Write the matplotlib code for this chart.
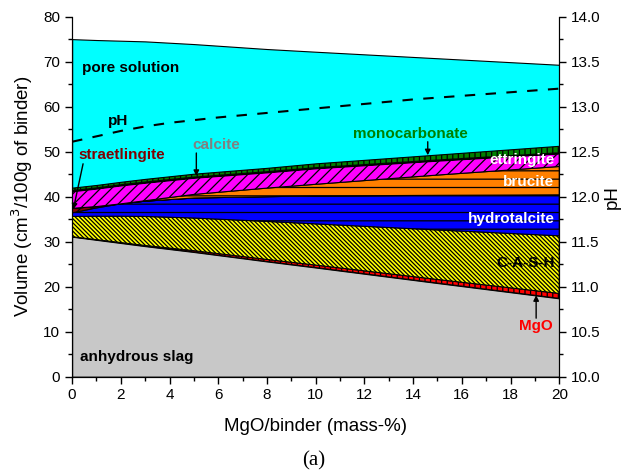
import numpy as np
import matplotlib
matplotlib.use("Agg")
import matplotlib.pyplot as plt

plt.rcParams['font.family'] = ['Liberation Sans', 'DejaVu Sans']
plt.rcParams['hatch.linewidth'] = 0.9

# MgO content of the binder (mass-%)
mgo = [0, 1, 2, 3, 5, 8, 10, 15, 20]

# Phase volumes (cm3/100 g of binder), stacked from the bottom up
slag = [31.1, 30.4, 29.7, 29.0, 27.7, 25.6, 24.25, 20.8, 17.4]
mgo_phase = [0.0, 0.05, 0.1, 0.15, 0.3, 0.45, 0.55, 0.8, 1.1]
cash = [4.5, 5.2, 5.85, 6.45, 7.25, 8.45, 9.15, 11.0, 12.8]
hydrotalcite = [0.8, 1.85, 2.75, 3.4, 4.45, 5.5, 6.2, 7.7, 9.1]
straetlingite = [1.0, 0.3, 0.0, 0.0, 0.0, 0.0, 0.0, 0.0, 0.0]
brucite = [0.0, 0.0, 0.0, 0.1, 0.8, 1.9, 2.6, 4.5, 6.3]
ettringite = [3.8, 4.0, 4.1, 4.0, 3.7, 3.5, 3.55, 3.2, 2.9]
calcite = [0.15, 0.15, 0.15, 0.15, 0.15, 0.15, 0.15, 0.15, 0.15]
monocarbonate = [0.65, 0.65, 0.65, 0.7, 0.75, 0.85, 0.95, 1.2, 1.55]
pore_solution = [33.0, 32.2, 31.35, 30.55, 28.8, 26.4, 24.8, 21.4, 18.0]

# pH of the pore solution
ph_x = [0, 1, 2, 3, 4, 6, 8, 10, 12, 14, 16, 18, 20]
ph = [12.61, 12.67, 12.73, 12.78, 12.82, 12.88, 12.93, 12.98, 13.03, 13.08, 13.12, 13.16, 13.2]

layers = [
    (slag, '#c8c8c8', None),
    (mgo_phase, '#ff0000', '|||'),
    (cash, '#ffff00', '\\' * 8),
    (hydrotalcite, '#0000ff', '--'),
    (straetlingite, '#800000', '///'),
    (brucite, '#ff8000', '--'),
    (ettringite, '#ff00ff', '///'),
    (calcite, '#808080', None),
    (monocarbonate, '#008000', '|||'),
    (pore_solution, '#00ffff', None),
]

fig = plt.figure(figsize=(6.27, 4.75), dpi=100)
ax = fig.add_axes([0.115, 0.207, 0.777, 0.758])

bottom = np.zeros(len(mgo))
for vals, color, hatch in layers:
    top = bottom + np.array(vals)
    ax.fill_between(mgo, bottom, top, facecolor=color, edgecolor='black',
                    hatch=hatch, linewidth=0.8)
    bottom = top

ax.set_xlim(0, 20)
ax.set_ylim(0, 80)
ax.set_xticks(range(0, 21, 2))
ax.set_xticks(range(1, 20, 2), minor=True)
ax.set_yticks(range(0, 81, 10))
ax.set_yticks(range(5, 80, 10), minor=True)
ax.tick_params(which='major', direction='out', length=5, width=1, labelsize=11)
ax.tick_params(which='minor', direction='out', length=3, width=1)
ax.spines['top'].set_visible(False)
ax.set_xlabel('MgO/binder (mass-%)', fontsize=13.5, labelpad=11)
ax.set_ylabel('Volume (cm$^3$/100g of binder)', fontsize=13.5, labelpad=6)

ax2 = ax.twinx()
ax2.plot(ph_x, ph, color='black', linestyle=(0, (5, 5)), linewidth=1.5)
ax2.set_ylim(10, 14)
ax2.set_yticks(np.arange(10, 14.01, 0.5))
ax2.set_yticks(np.arange(10.25, 14, 0.5), minor=True)
ax2.yaxis.set_major_formatter(matplotlib.ticker.FormatStrFormatter('%.1f'))
ax2.tick_params(which='major', direction='out', length=5, width=1, labelsize=11)
ax2.tick_params(which='minor', direction='out', length=3, width=1)
ax2.spines['top'].set_visible(False)
ax2.set_ylabel('pH', fontsize=13.5, labelpad=2)

# Phase labels
kw = dict(fontsize=11, fontweight='bold')
ax.text(0.4, 68.5, 'pore solution', color='black', ha='left', va='center', **kw)
ax.text(1.9, 56.8, 'pH', color='black', ha='center', va='center', **kw)
ax.text(19.8, 48.1, 'ettringite', color='white', ha='right', va='center', **kw)
ax.text(19.8, 43.3, 'brucite', color='white', ha='right', va='center', **kw)
ax.text(19.8, 35.0, 'hydrotalcite', color='white', ha='right', va='center', **kw)
ax.text(19.8, 25.3, 'C-A-S-H', color='black', ha='right', va='center', **kw)
ax.text(0.33, 4.4, 'anhydrous slag', color='black', ha='left', va='center', **kw)

arrow = dict(arrowstyle='-|>', color='black', lw=1, mutation_scale=8,
             shrinkA=0, shrinkB=0)
ax.text(0.25, 49.3, 'straetlingite', color='#800000', ha='left', va='center', **kw)
ax.annotate('', xy=(0.05, 37.2), xytext=(0.45, 47.3), arrowprops=arrow)
ax.text(5.9, 51.5, 'calcite', color='#808080', ha='center', va='center', **kw)
ax.annotate('', xy=(5.1, 44.6), xytext=(5.1, 49.7), arrowprops=arrow)
ax.text(13.9, 53.9, 'monocarbonate', color='#008000', ha='center', va='center', **kw)
ax.annotate('', xy=(14.6, 49.2), xytext=(14.6, 52.2), arrowprops=arrow)
ax.text(19.05, 11.2, 'MgO', color='#ff0000', ha='center', va='center', **kw)
ax.annotate('', xy=(19.05, 18.1), xytext=(19.05, 13.0), arrowprops=arrow)

fig.text(0.5, 0.03, '(a)', fontsize=15, ha='center', va='center',
         family='Liberation Serif')

fig.savefig('out.png', dpi=100)
